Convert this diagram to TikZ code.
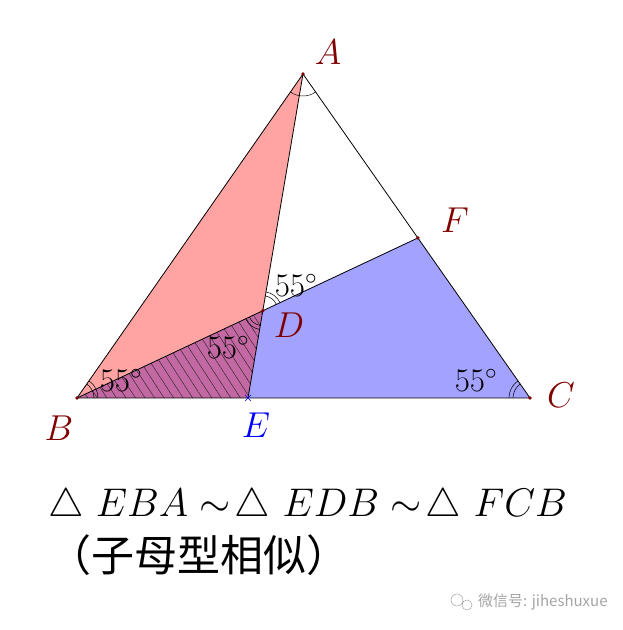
\RequirePackage{fix-cm}
\documentclass[tikz,border=0pt]{standalone}
\usepackage{fontspec}
\newfontfamily\cjk{Noto Sans CJK SC}
\usetikzlibrary{angles,patterns.meta,calc,intersections}
\definecolor{ptred}{RGB}{128,0,0}
\definecolor{wmgray}{RGB}{165,165,165}
\tikzset{
  seg/.style={line width=0.8pt, black},
  ang/.style={draw, line width=0.5pt},
  ptlabel/.style={text=ptred, font=\fontsize{36}{40}\selectfont},
  deglabel/.style={font=\fontsize{33}{36}\selectfont, inner sep=0pt},
}
\begin{document}
\begin{tikzpicture}[x=1pt,y=1pt]
\useasboundingbox (0,0) rectangle (623,630);
\fill[white] (0,0) rectangle (623,630);
\coordinate (A) at (303,556);
\coordinate (B) at (77,232);
\coordinate (C) at (530,232);
\coordinate (E) at (248,232);
\coordinate (F) at ($(A)!0.506!(C)$);
\coordinate (D) at (intersection of A--E and B--F);
% fills
\fill[blue, fill opacity=0.36] (B)--(C)--(F)--cycle;
\fill[red, fill opacity=0.36] (E)--(B)--(A)--cycle;
\fill[pattern={Lines[angle=-57,distance=8pt,line width=0.45pt]}, pattern color=black!85] (B)--(D)--(E)--cycle;
% segments
\draw[seg] (A)--(B)--(C)--cycle;
\draw[seg] (A)--(E);
\draw[seg] (B)--(F);
% angles
\pic[ang, angle radius=22pt] {angle=B--A--C};
\pic[ang, angle radius=17pt] {angle=C--B--A};
\pic[ang, angle radius=21pt] {angle=C--B--A};
\pic[ang, angle radius=17pt] {angle=A--C--B};
\pic[ang, angle radius=21pt] {angle=A--C--B};
\pic[ang, angle radius=15pt] {angle=F--D--A};
\pic[ang, angle radius=19pt] {angle=F--D--A};
\pic[ang, angle radius=15pt] {angle=B--D--E};
\pic[ang, angle radius=19pt] {angle=B--D--E};
% degree labels
\node[deglabel] (dB) at (121,250) {$55^\circ$};
\node[deglabel] (dD1) at (228,283) {$55^\circ$};
\node[deglabel] (dD2) at (296,345) {$55^\circ$};
\node[deglabel] (dC) at (476,250) {$55^\circ$};
% points
\foreach \p in {A,B,C,D,F} \fill[ptred] (\p) circle (1.9pt);
\draw[blue, line width=0.7pt] ($(E)+(-3,-3)$)--($(E)+(3,3)$) ($(E)+(-3,3)$)--($(E)+(3,-3)$);
% point labels
\node[ptlabel] (lA) at (328,578) {$A$};
\node[ptlabel] (lB) at (59,202) {$B$};
\node[ptlabel] (lC) at (561,235) {$C$};
\node[ptlabel] (lD) at (289,305) {$D$};
\node[ptlabel, text=blue] (lE) at (256,205) {$E$};
\node[ptlabel] (lF) at (455,410) {$F$};
% bottom text
\node[anchor=base west, inner sep=0pt, font=\fontsize{40}{46}\selectfont] (t1) at (48,113) {$\triangle\ EBA \sim\!\triangle\ EDB \sim\!\triangle\ FCB$};
\node[anchor=west, inner sep=0pt, font=\fontsize{43}{50}\selectfont\cjk] (t2) at (48,75) {（子母型相似）};
% watermark
\draw[wmgray, line width=0.5pt] (457,30) circle (6pt) (467,25) circle (5pt);
\node[anchor=west, inner sep=0pt, text=wmgray, font=\fontsize{15}{17}\selectfont\cjk] (wm) at (478,28) {微信号: jiheshuxue};
\end{tikzpicture}
\end{document}
